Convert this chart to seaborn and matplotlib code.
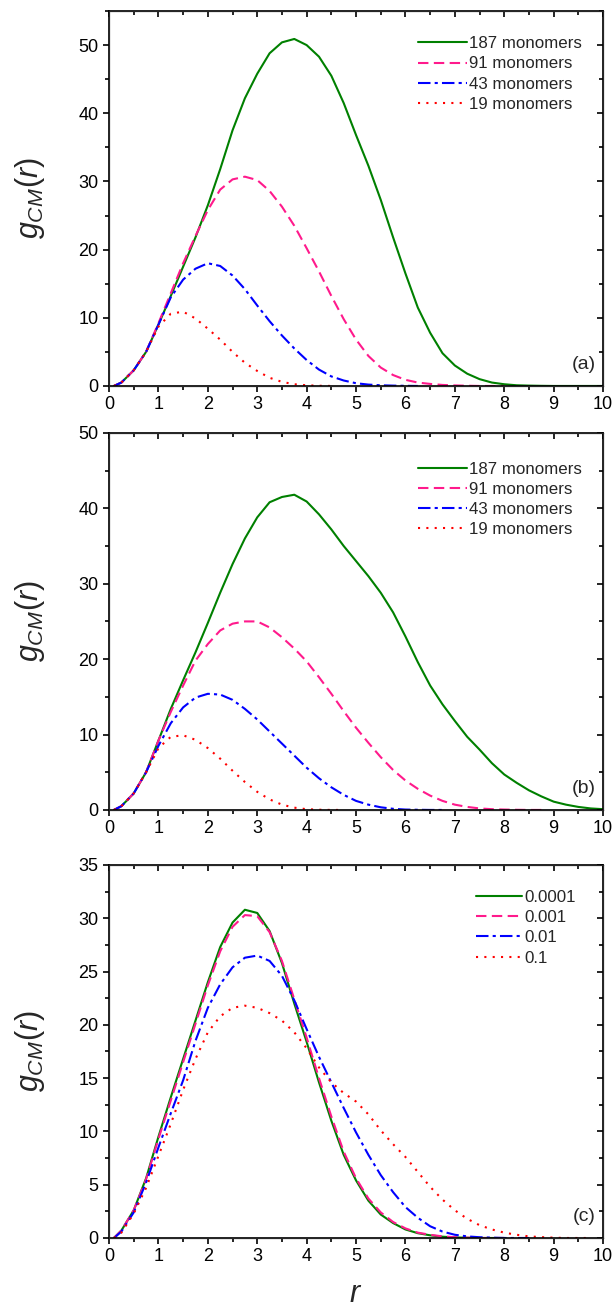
import numpy as np
import pandas as pd
import seaborn as sns
import matplotlib.pyplot as plt
from matplotlib.ticker import MultipleLocator

nan = np.nan

# radial grid (same for every curve)
r = np.r_[0.1, np.arange(0.25, 10.01, 0.25)]

# panel (a)
g187_a = [0, 0.5, 2.3, 5.0, 9.0, 13.2, 17.5, 21.8, 26.5, 31.8, 37.5, 42.2, 45.8, 48.8, 50.4, 50.9,
          50.0, 48.3, 45.5, 41.5, 36.8, 32.3, 27.3, 21.8, 16.5, 11.5, 7.8, 4.8, 3.0, 1.8, 1.0, 0.5,
          0.25, 0.1, 0.05, 0.02, 0, 0, 0, 0, 0]
g91_a = [0, 0.5, 2.3, 5.0, 9.2, 13.6, 18.0, 22.0, 25.8, 28.8, 30.3, 30.7, 30.2, 28.6, 26.3, 23.5,
         20.2, 16.8, 13.2, 9.8, 6.8, 4.4, 2.7, 1.6, 0.9, 0.5, 0.3, 0.15, 0.08, 0.03, 0, 0, 0,
         nan, nan, nan, nan, nan, nan, nan, nan]
g43_a = [0, 0.5, 2.3, 5.0, 9.0, 13.0, 15.6, 17.2, 18.0, 17.6, 16.2, 14.2, 11.8, 9.5, 7.4, 5.5,
         3.8, 2.4, 1.4, 0.8, 0.4, 0.2, 0.1, 0.05, 0.02, 0] + [nan] * 15
g19_a = [0, 0.5, 2.3, 5.0, 8.7, 10.6, 10.9, 9.9, 8.4, 6.8, 5.0, 3.4, 2.2, 1.2, 0.6, 0.25,
         0.1, 0.03, 0] + [nan] * 22

# panel (b)
g187_b = [0, 0.5, 2.2, 5.0, 9.2, 13.4, 17.2, 20.9, 24.8, 28.8, 32.6, 36.0, 38.8, 40.8, 41.5, 41.8,
          40.9, 39.2, 37.2, 35.0, 33.0, 31.0, 28.8, 26.2, 23.0, 19.6, 16.5, 14.0, 11.8, 9.7, 8.0,
          6.2, 4.7, 3.6, 2.6, 1.8, 1.1, 0.7, 0.4, 0.2, 0.1]
g91_b = [0, 0.5, 2.2, 5.0, 9.2, 13.0, 16.5, 19.8, 22.0, 23.8, 24.7, 25.0, 25.0, 24.2, 22.9, 21.4,
         19.7, 17.6, 15.4, 13.1, 10.9, 8.9, 7.0, 5.3, 3.9, 2.8, 1.9, 1.2, 0.7, 0.4, 0.2, 0.1,
         0.05, 0.02, 0, 0] + [nan] * 5
g43_b = [0, 0.5, 2.2, 5.0, 8.5, 11.5, 13.6, 14.9, 15.4, 15.3, 14.6, 13.4, 12.0, 10.4, 8.8, 7.2,
         5.6, 4.2, 3.0, 2.0, 1.2, 0.7, 0.35, 0.15, 0.05, 0.02, 0, 0] + [nan] * 13
g19_b = [0, 0.5, 2.2, 5.0, 8.2, 9.7, 9.9, 9.3, 8.2, 6.8, 5.2, 3.7, 2.4, 1.4, 0.7, 0.3,
         0.1, 0.03, 0, 0] + [nan] * 21

# panel (c)
g1e4_c = [0, 0.7, 2.6, 5.6, 9.5, 13.2, 16.8, 20.4, 24.0, 27.3, 29.6, 30.8, 30.5, 28.8, 25.8, 22.0,
          18.4, 14.6, 11.0, 7.8, 5.4, 3.5, 2.2, 1.4, 0.8, 0.45, 0.25, 0.12, 0.05, 0.02, 0, 0,
          0] + [nan] * 8
g1e3_c = [0, 0.7, 2.6, 5.5, 9.3, 12.9, 16.5, 20.1, 23.7, 26.9, 29.2, 30.3, 30.2, 28.7, 26.0, 22.4,
          18.8, 15.0, 11.4, 8.1, 5.6, 3.7, 2.4, 1.5, 0.9, 0.5, 0.3, 0.15, 0.07, 0.03, 0, 0,
          0] + [nan] * 8
g1e2_c = [0, 0.6, 2.4, 5.2, 8.5, 11.7, 14.8, 18.5, 21.6, 23.8, 25.4, 26.3, 26.5, 26.0, 24.6, 22.3,
          19.6, 17.0, 14.6, 12.2, 9.9, 7.8, 5.9, 4.3, 2.9, 1.9, 1.1, 0.6, 0.3, 0.15, 0.07, 0.03,
          0, 0, 0] + [nan] * 6
g1e1_c = [0, 0.5, 2.3, 4.7, 7.7, 10.7, 13.9, 16.8, 19.3, 20.8, 21.6, 21.8, 21.6, 21.1, 20.4, 19.3,
          17.8, 16.0, 14.6, 13.6, 12.8, 11.6, 10.1, 8.8, 7.6, 6.2, 4.8, 3.6, 2.6, 1.8, 1.2, 0.8,
          0.5, 0.3, 0.15, 0.08, 0.03, 0, 0, 0, nan]

labels_ab = ['187 monomers', '91 monomers', '43 monomers', '19 monomers']
labels_c = ['0.0001', '0.001', '0.01', '0.1']

colors = ['#008000', '#ff1a8c', '#0000ff', '#ff0000']
dash_list = ['', (5, 2.6), (6, 2, 1.5, 2), (1, 3)]

panels = [
    ('(a)', labels_ab, [g187_a, g91_a, g43_a, g19_a], 55, 10, [0.177, 0.7056, 0.802, 0.2860], (0.975, 0.955), 2.9),
    ('(b)', labels_ab, [g187_b, g91_b, g43_b, g19_b], 50, 10, [0.177, 0.3822, 0.802, 0.2876], (0.975, 0.945), 2.9),
    ('(c)', labels_c, [g1e4_c, g1e3_c, g1e2_c, g1e1_c], 35, 5, [0.177, 0.0557, 0.802, 0.2845], (0.962, 0.955), 2.7),
]

sns.set_style('ticks')
plt.rcParams['font.family'] = ['Liberation Sans', 'DejaVu Sans']
plt.rcParams['mathtext.fontset'] = 'custom'
plt.rcParams['mathtext.it'] = 'Liberation Sans:italic'
plt.rcParams['mathtext.rm'] = 'Liberation Sans'

fig = plt.figure(figsize=(6.16, 13.11), dpi=100)

for tag, labels, series, ymax, ystep, pos, leg_anchor, hlen in panels:
    ax = fig.add_axes(pos)
    df = pd.concat([pd.DataFrame({'r': r, 'g': s, 'series': lab}) for lab, s in zip(labels, series)])
    df = df.dropna()
    sns.lineplot(data=df, x='r', y='g', hue='series', style='series',
                 hue_order=labels, style_order=labels,
                 palette=dict(zip(labels, colors)), dashes=dict(zip(labels, dash_list)),
                 estimator=None, lw=1.5, ax=ax)

    ax.set_xlim(0, 10)
    ax.set_ylim(0, ymax)
    ax.xaxis.set_major_locator(MultipleLocator(1))
    ax.xaxis.set_minor_locator(MultipleLocator(0.5))
    ax.yaxis.set_major_locator(MultipleLocator(ystep))
    ax.yaxis.set_minor_locator(MultipleLocator(ystep / 2))
    ax.tick_params(which='major', direction='out', length=4.5, width=1.2, color='black',
                   labelsize=13, labelcolor='black', pad=3,
                   top=False, right=False, bottom=True, left=True)
    ax.tick_params(which='minor', direction='out', length=2.8, width=1.2, color='black',
                   top=False, right=False, bottom=True, left=True)
    for sp in ax.spines.values():
        sp.set_visible(True)
        sp.set_linewidth(1.2)
        sp.set_color('black')

    # inward ticks on the top and right edges (twin axes, no data)
    tx = ax.twiny()
    tx.set_xlim(0, 10)
    tx.xaxis.set_major_locator(MultipleLocator(1))
    tx.xaxis.set_minor_locator(MultipleLocator(0.5))
    tx.tick_params(which='major', direction='in', length=4.5, width=1.2, color='black',
                   top=True, bottom=False, labeltop=False, labelbottom=False)
    tx.tick_params(which='minor', direction='in', length=2.8, width=1.2, color='black',
                   top=True, bottom=False)

    ty = ax.twinx()
    ty.set_ylim(0, ymax)
    ty.yaxis.set_major_locator(MultipleLocator(ystep))
    ty.yaxis.set_minor_locator(MultipleLocator(ystep / 2))
    ty.tick_params(which='major', direction='in', length=4.5, width=1.2, color='black',
                   right=True, left=False, labelright=False, labelleft=False)
    ty.tick_params(which='minor', direction='in', length=2.8, width=1.2, color='black',
                   right=True, left=False)

    ax.set_ylabel(r'$g_{CM}(r)$', fontsize=22)
    ax.yaxis.set_label_coords(-0.125, 0.5)
    ax.set_xlabel('')

    handles, labs = ax.get_legend_handles_labels()
    ax.legend(handles, labs, loc='upper right', bbox_to_anchor=leg_anchor, frameon=False,
              fontsize=12.2, handlelength=hlen, handletextpad=0.15, labelspacing=0.3, borderpad=0)

    ax.text(0.985, 0.035, tag, transform=ax.transAxes, ha='right', va='bottom', fontsize=14)

ax.set_xlabel(r'$r$', fontsize=22, labelpad=10)

fig.savefig('out.png', dpi=100)
